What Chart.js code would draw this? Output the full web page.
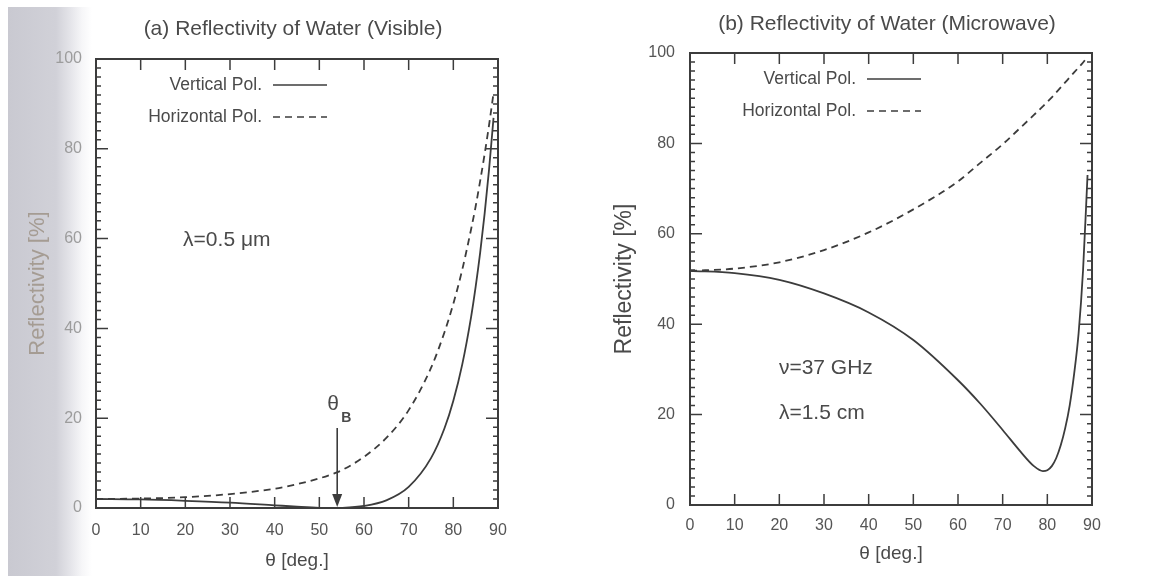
<!DOCTYPE html>
<html>
<head>
<meta charset="utf-8">
<script src="https://cdn.jsdelivr.net/npm/chart.js@4.4.1/dist/chart.umd.min.js"></script>
<style>
  html, body { margin: 0; padding: 0; background: #fff; }
  #wrap { position: relative; width: 1160px; height: 576px; overflow: hidden; }
  /* scanner shadow on the left edge of the page */
  #scan { position: absolute; left: 8px; top: 7px; width: 84px; height: 569px;
          background: linear-gradient(to right, #c9c9d1 0, #d1d1d8 48px, #e4e4e9 62px, #f6f6f8 74px, #fff 84px); }
  canvas { position: absolute; top: 0; }
  #cA { left: 0; }
  #cB { left: 580px; }
</style>
</head>
<body>
<div id="wrap">
  <div id="scan"></div>
  <canvas id="cA" width="580" height="576"></canvas>
  <canvas id="cB" width="580" height="576"></canvas>
</div>
<script>
// ---- data ----
// (a) visible, lambda = 0.5 um
var visAngles = [0, 10, 20, 30, 40, 45, 50, 53, 55, 60, 65, 70, 75, 78, 80, 82, 84, 85, 86, 87, 88, 89];
var visVert   = [2.0, 1.9, 1.6, 1.2, 0.6, 0.3, 0.05, 0.0, 0.03, 0.45, 1.7, 4.7, 11.1, 17.7, 23.9, 32.0, 42.7, 49.3, 56.8, 65.5, 75.4, 86.9];
var visHoriz  = [2.0, 2.1, 2.4, 3.1, 4.3, 5.3, 6.6, 7.6, 8.4, 11.4, 15.6, 21.8, 31.2, 39.1, 45.5, 53.1, 62.2, 67.2, 72.8, 78.8, 85.3, 92.4];

// (b) microwave, nu = 37 GHz
var mwAngles = [0, 10, 20, 30, 40, 50, 60, 65, 70, 74, 77, 79, 80, 81, 82, 83, 84, 85, 86, 87, 88, 89];
var mwVert   = [51.8, 51.3, 49.8, 46.8, 42.6, 36.5, 27.6, 22.4, 16.6, 11.8, 8.6, 7.5, 7.7, 8.6, 10.4, 13.2, 17.0, 22.0, 29.0, 38.0, 52.0, 73.0];
var mwHoriz  = [51.8, 52.3, 53.7, 56.4, 60.3, 65.4, 71.6, 75.7, 79.8, 83.5, 86.3, 88.2, 89.2, 90.2, 91.3, 92.4, 93.5, 94.6, 95.7, 96.8, 97.9, 99.2];

var xTicks = [0, 10, 20, 30, 40, 50, 60, 70, 80, 90];
var yTicks = [0, 20, 40, 60, 80, 100];
var brewster = 54;

var ink = '#3c3c3c';

function pts(xs, ys) {
  return xs.map(function(v, i) { return {x: v, y: ys[i]}; });
}

// frame, inward ticks, title, legend and notes
var framePlugin = {
  id: 'frame',
  afterDatasetsDraw: function(chart, args, o) {
    var ctx = chart.ctx, a = chart.chartArea;
    var x = chart.scales.x, y = chart.scales.y;
    ctx.save();
    ctx.strokeStyle = ink;
    ctx.lineWidth = 2;
    ctx.strokeRect(a.left, a.top, a.right - a.left, a.bottom - a.top);

    ctx.lineWidth = 1.5;
    ctx.beginPath();
    xTicks.forEach(function(v) {
      if (v <= 0 || v >= 90) return;
      var px = x.getPixelForValue(v);
      ctx.moveTo(px, a.bottom); ctx.lineTo(px, a.bottom - 11);
      ctx.moveTo(px, a.top);    ctx.lineTo(px, a.top + 11);
    });
    for (var v = 2; v < 100; v += 2) {
      var py = y.getPixelForValue(v);
      var len = (v % 20 === 0) ? 12 : 5;
      ctx.moveTo(a.left, py);  ctx.lineTo(a.left + len, py);
      ctx.moveTo(a.right, py); ctx.lineTo(a.right - len, py);
    }
    ctx.stroke();

    // title
    ctx.fillStyle = '#4a4a4a';
    ctx.font = '21px "Liberation Sans", Arial, sans-serif';
    ctx.textAlign = 'center';
    ctx.textBaseline = 'middle';
    ctx.fillText(o.title, (a.left + a.right) / 2 + o.titleShift, a.top - o.titleGap);

    // legend: label on the left, line sample on the right
    ctx.font = '17.5px "Liberation Sans", Arial, sans-serif';
    ctx.textAlign = 'right';
    chart.data.datasets.forEach(function(ds, i) {
      var ly = a.top + 26 + i * 32;
      var lx = a.left + 166;
      ctx.fillStyle = '#4a4a4a';
      ctx.fillText(ds.label, lx, ly);
      ctx.strokeStyle = ink;
      ctx.lineWidth = 1.6;
      ctx.setLineDash(ds.borderDash || []);
      ctx.beginPath();
      ctx.moveTo(lx + 11, ly); ctx.lineTo(lx + 65, ly);
      ctx.stroke();
      ctx.setLineDash([]);
    });

    // notes placed in data units
    ctx.textAlign = 'left';
    ctx.fillStyle = '#4a4a4a';
    ctx.font = '21px "Liberation Sans", Arial, sans-serif';
    (o.notes || []).forEach(function(n) {
      ctx.fillText(n.text, x.getPixelForValue(n.x), y.getPixelForValue(n.y));
    });

    // Brewster angle arrow
    if (o.arrow) {
      var ax = x.getPixelForValue(brewster);
      var top = y.getPixelForValue(17.8), bot = y.getPixelForValue(0);
      ctx.strokeStyle = ink;
      ctx.lineWidth = 1.6;
      ctx.beginPath();
      ctx.moveTo(ax, top); ctx.lineTo(ax, bot - 10);
      ctx.stroke();
      ctx.fillStyle = ink;
      ctx.beginPath();
      ctx.moveTo(ax - 5, bot - 14); ctx.lineTo(ax + 5, bot - 14); ctx.lineTo(ax, bot - 1);
      ctx.closePath();
      ctx.fill();
      ctx.fillStyle = '#4a4a4a';
      ctx.font = '21px "Liberation Sans", Arial, sans-serif';
      ctx.textAlign = 'center';
      ctx.fillText('\u03B8', ax - 4, top - 24);
      ctx.font = 'bold 14px "Liberation Sans", Arial, sans-serif';
      ctx.fillText('B', ax + 9, top - 10);
    }
    ctx.restore();
  }
};

function makeChart(id, cfg) {
  return new Chart(document.getElementById(id).getContext('2d'), {
    type: 'line',
    data: {
      datasets: [
        { label: 'Vertical Pol.', data: pts(cfg.angles, cfg.vert),
          borderColor: ink, borderWidth: 1.8, pointRadius: 0, fill: false,
          cubicInterpolationMode: 'monotone' },
        { label: 'Horizontal Pol.', data: pts(cfg.angles, cfg.horiz),
          borderColor: ink, borderWidth: 1.8, borderDash: [7, 5], pointRadius: 0, fill: false,
          cubicInterpolationMode: 'monotone' }
      ]
    },
    options: {
      responsive: false,
      animation: false,
      layout: { padding: { left: 0, top: cfg.top, right: cfg.right, bottom: 0 } },
      plugins: {
        legend: { display: false },
        tooltip: { enabled: false },
        frame: { title: cfg.title, titleGap: cfg.titleGap, titleShift: cfg.titleShift,
                 notes: cfg.notes, arrow: cfg.arrow }
      },
      scales: {
        x: {
          type: 'linear', min: 0, max: 90,
          afterBuildTicks: function(s) { s.ticks = xTicks.map(function(v) { return {value: v}; }); },
          afterFit: function(s) { s.height = cfg.xh; },
          grid: { display: false, drawTicks: false },
          border: { display: false },
          ticks: { padding: cfg.xpad, color: cfg.xcol, maxRotation: 0, autoSkip: false,
                   font: { size: 16, family: '"Liberation Sans", Arial, sans-serif' } },
          title: { display: true, text: '\u03B8 [deg.]', color: '#4a4a4a',
                   padding: { top: 0, bottom: cfg.xtpad },
                   font: { size: 19, family: '"Liberation Sans", Arial, sans-serif' } }
        },
        y: {
          min: 0, max: 100,
          afterBuildTicks: function(s) { s.ticks = yTicks.map(function(v) { return {value: v}; }); },
          afterFit: function(s) { s.width = cfg.yw; },
          grid: { display: false, drawTicks: false },
          border: { display: false },
          ticks: { padding: cfg.ypad, color: cfg.ycol,
                   font: { size: 16, family: '"Liberation Sans", Arial, sans-serif' } },
          title: { display: true, text: 'Reflectivity [%]', color: cfg.ytcol,
                   padding: { top: cfg.ytpad, bottom: 0 },
                   font: { size: cfg.ytsize, family: '"Liberation Sans", Arial, sans-serif' } }
        }
      }
    },
    plugins: [framePlugin]
  });
}

makeChart('cA', {
  angles: visAngles, vert: visVert, horiz: visHoriz,
  title: '(a) Reflectivity of Water (Visible)', titleGap: 30, titleShift: -4,
  top: 59, right: 82, xh: 68, yw: 96,
  xpad: 13, xtpad: 4, ypad: 14, ytpad: 25, ytsize: 22,
  xcol: '#555', ycol: '#9c9c9c', ytcol: '#a59c93',
  notes: [{ text: '\u03BB=0.5 \u03BCm', x: 19.5, y: 59.7 }],
  arrow: true
});

makeChart('cB', {
  angles: mwAngles, vert: mwVert, horiz: mwHoriz,
  title: '(b) Reflectivity of Water (Microwave)', titleGap: 29, titleShift: -4,
  top: 53, right: 68, xh: 71, yw: 110,
  xpad: 11, xtpad: 11, ypad: 15, ytpad: 31, ytsize: 23,
  xcol: '#555', ycol: '#555', ytcol: '#4a4a4a',
  notes: [{ text: '\u03BD=37 GHz', x: 19.9, y: 30.3 },
          { text: '\u03BB=1.5 cm', x: 19.9, y: 20.4 }],
  arrow: false
});
</script>
</body>
</html>
